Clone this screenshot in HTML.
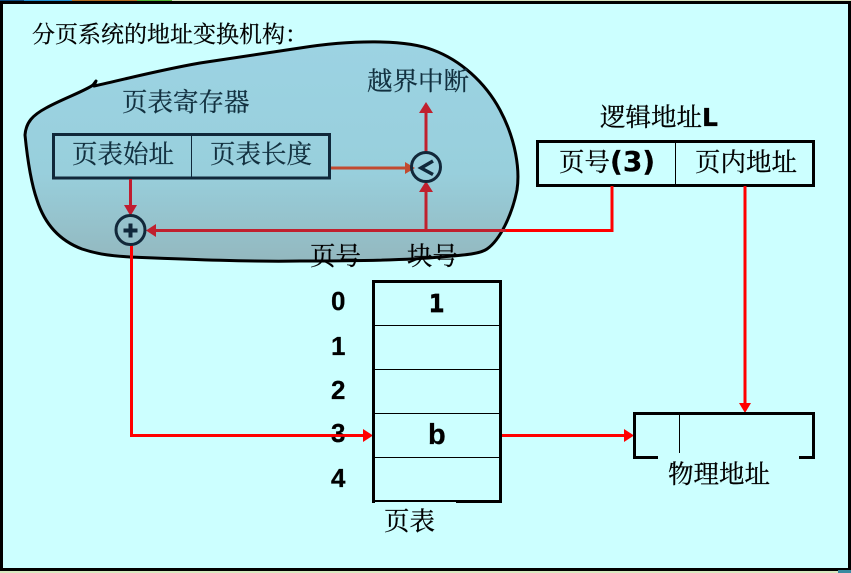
<!DOCTYPE html>
<html><head><meta charset="utf-8"><style>
html,body{margin:0;padding:0;background:#ccffff}
svg{display:block}
text{font-family:"Liberation Serif","Noto Serif CJK SC",serif;font-size:25.500px;fill:#000;stroke:#000;stroke-width:.25px}
.t{fill:#12303f;stroke:#12303f}
.b{font-family:"Liberation Sans",sans-serif;font-weight:bold;font-size:26px}
.d{font-family:"DejaVu Sans",sans-serif;font-weight:bold}
.m{font-family:"DejaVu Sans Mono",monospace;font-weight:bold}
</style></head><body>
<svg width="851" height="573" viewBox="0 0 851 573" xmlns="http://www.w3.org/2000/svg">
<defs><linearGradient id="g" x1="0" y1="0" x2="0" y2="1"><stop offset="0" stop-color="#9cd3e3"/><stop offset=".6" stop-color="#98cfdc"/><stop offset="1" stop-color="#93b8bf"/></linearGradient></defs>
<rect width="851" height="573" fill="#000"/>
<rect x="0" y="0" width="72" height="1" fill="#0a4a80"/><rect x="24" y="0" width="48" height="1" fill="#2090d0"/><rect x="72" y="0" width="65" height="1" fill="#b06a20"/><rect x="137" y="0" width="35" height="1" fill="#50b030"/><rect x="172" y="0" width="679" height="1" fill="#d8e4c0"/>
<rect x="3" y="4" width="845" height="564" fill="#ccffff"/>
<rect x="0" y="571" width="851" height="2" fill="#d8e8c0"/>
<rect x="838" y="570" width="13" height="3" fill="#3a8aa0"/>

<text x="32" y="42" style="font-size:23px">分页系统的地址变换机构：</text>

<path d="M93 85 C85 91 62 99 46 108 C33 115 26 122 25 135 C27 155 30 180 37 200 C44 222 58 240 82 249 C100 255 115 256 130 257 C180 259 250 262 300 261 C360 261 410 260 440 257 C465 255 480 254 487 249 C500 240 512 215 517 190 C520 170 516 140 500 110 C485 82 460 60 433 50 C405 39 350 40 300 48 C260 54 220 60 200 63 C160 70 130 78 94 86 L96 81 Z" fill="url(#g)" stroke="#000" stroke-width="3" stroke-linejoin="round"/>

<text class="t" x="122" y="111">页表寄存器</text>
<text class="t" x="367" y="90">越界中断</text>
<text x="600" y="126">逻辑地址<tspan class="d" style="font-size:25px;stroke-width:.3px">L</tspan></text>
<text x="310" y="265">页号</text>
<text x="407" y="265">块号</text>

<!-- register -->
<rect x="53.500" y="134.500" width="276" height="43.500" fill="none" stroke="#10283a" stroke-width="3"/>
<line x1="191.500" y1="135" x2="191.500" y2="178" stroke="#10283a"/>
<text class="t" x="72" y="163">页表始址</text>
<text class="t" x="210" y="163">页表长度</text>

<!-- logical -->
<rect x="537.500" y="141.500" width="276" height="44" fill="none" stroke="#000" stroke-width="3"/>
<line x1="675.500" y1="142" x2="675.500" y2="185" stroke="#000"/>
<text x="559" y="171">页号<tspan class="d" style="font-size:28px">(3)</tspan></text>
<text x="695" y="171">页内地址</text>

<!-- red lines -->
<g fill="none" stroke-width="3">
<path d="M130.500 179V208" stroke="#c01c30"/>
<path d="M612 186V230.500H505" stroke="#ff0000"/>
<path d="M506 230.500H156" stroke="#c0202e"/>
<path d="M426 230V190" stroke="#c0202e"/>
<path d="M426 153V112" stroke="#c0202e"/>
<path d="M331 168H408" stroke="#c24a30"/>
<path d="M131.500 245V435.500H364" stroke="#ff0000"/>
<path d="M501 435.500H626" stroke="#ff0000"/>
<path d="M745 186V404" stroke="#ff0000"/>
</g>
<g>
<path d="M130.500 216L124 205H137Z" fill="#c01c30"/>
<path d="M146 230.500L156 224V237Z" fill="#c0202e"/>
<path d="M426 181L419 192H433Z" fill="#c0202e"/>
<path d="M426 102L419 113H433Z" fill="#c0202e"/>
<path d="M415 168L405 162V174Z" fill="#c24a30"/>
<path d="M373 435.500L363 429V442Z" fill="#ff0000"/>
<path d="M634 435.500L624 429V442Z" fill="#ff0000"/>
<path d="M745 413L739 403H751Z" fill="#ff0000"/>
</g>

<!-- circles -->
<circle cx="130.500" cy="230" r="14.500" fill="none" stroke="#12283a" stroke-width="3"/>
<path d="M123.500 230.500H137.500M130.500 223.500V237.500" stroke="#10283a" stroke-width="4" fill="none"/>
<circle cx="426" cy="167" r="14.500" fill="none" stroke="#12283a" stroke-width="3"/>
<path d="M433 161L421 168L433 174.500" stroke="#10283a" stroke-width="3.500" fill="none"/>

<!-- page table -->
<path d="M373.500 503V281.500H500.500V501.500H456" fill="none" stroke="#000" stroke-width="3"/>
<path d="M373 501H456" stroke="#000" stroke-width="2"/>
<g stroke="#000"><line x1="374" y1="325.500" x2="500" y2="325.500"/><line x1="374" y1="369.500" x2="500" y2="369.500"/><line x1="374" y1="413.500" x2="500" y2="413.500"/><line x1="374" y1="457.500" x2="500" y2="457.500"/></g>
<text class="b" x="331" y="310">0</text>
<text class="b" x="331" y="355">1</text>
<text class="b" x="331" y="399">2</text>
<text class="b" x="331" y="442">3</text>
<text class="b" x="331" y="487">4</text>
<path d="M331 435.500H362" stroke="#ff0000" stroke-width="2.500"/>
<text class="m" x="429" y="312" style="font-size:25px;stroke-width:.8px">1</text>
<text class="b" x="428" y="444" style="font-size:29px">b</text>
<text x="384" y="530">页表</text>

<!-- physical -->
<path d="M658 457.500H634.500V413.500H813.500V457.500H799" fill="none" stroke="#000" stroke-width="3"/>
<line x1="679.500" y1="414" x2="679.500" y2="453" stroke="#000"/>
<text x="668" y="483">物理地址</text>
</svg>
</body></html>
